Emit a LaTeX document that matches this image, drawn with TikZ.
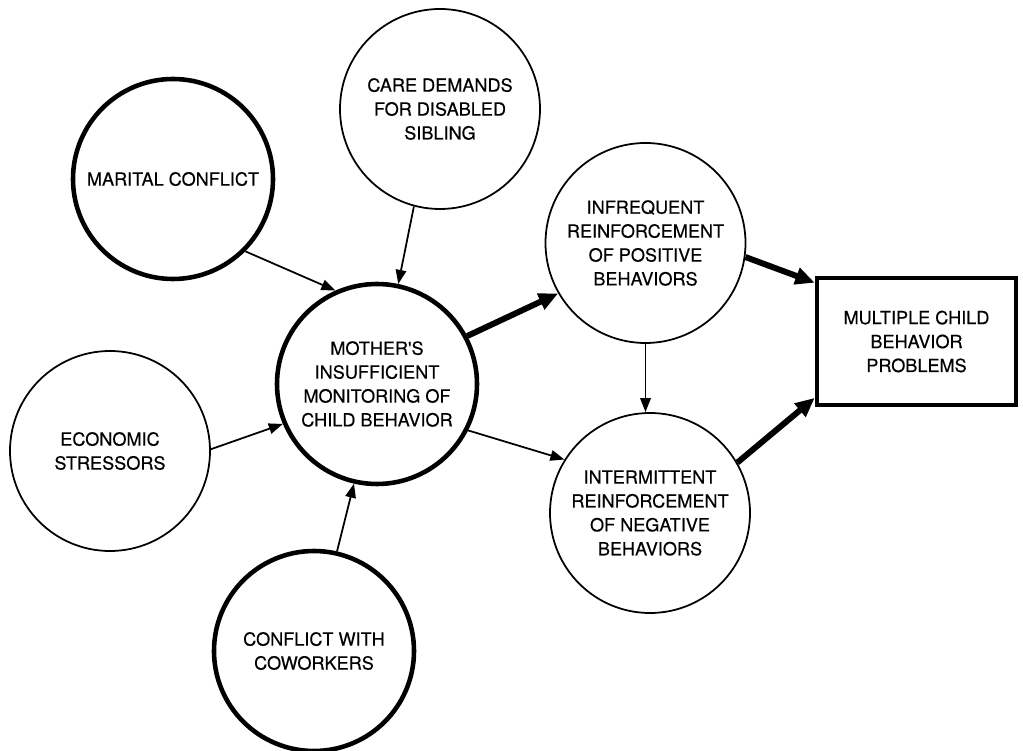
\documentclass[tikz,border=0pt]{standalone}
\usepackage{fontspec}
\setmainfont{TeX Gyre Heros}
\newfontfamily\diagfont{TeX Gyre Heros}[FakeBold=0.4]
\usetikzlibrary{arrows.meta}

\begin{document}
\begin{tikzpicture}
	\tikzset{
		bubble/.style={circle, draw, line width=1pt, minimum size=4cm, inner sep=0pt,
			align=center, font=\diagfont\fontsize{10.3}{13.6}\selectfont},
		heavy/.style={line width=2.6pt},
		outcome/.style={rectangle, draw, line width=2.6pt, minimum width=3.98cm,
			minimum height=2.54cm, align=center, font=\diagfont\fontsize{10.3}{13.6}\selectfont},
		link/.style={-{Triangle[length=8pt, width=6pt]}, line width=1pt},
		heavylink/.style={-{Triangle[length=11pt, width=9.5pt]}, line width=3.4pt}
	}
	\useasboundingbox (0, 0) rectangle (20.46, -15.02);
	
	% stressors
	\node[bubble, heavy] (marital) at (3.46, -3.58) {MARITAL CONFLICT};
	\node[bubble] (care) at (8.80, -2.18) {CARE DEMANDS\\FOR DISABLED\\SIBLING};
	\node[bubble] (econ) at (2.20, -9.02) {ECONOMIC\\STRESSORS};
	\node[bubble, heavy] (cowork) at (6.28, -13.02) {CONFLICT WITH\\COWORKERS};
	
	% parenting
	\node[bubble, heavy] (mother) at (7.54, -7.68) {MOTHER'S\\INSUFFICIENT\\MONITORING OF\\CHILD BEHAVIOR};
	\node[bubble] (infreq) at (12.91, -4.86) {INFREQUENT\\REINFORCEMENT\\OF POSITIVE\\BEHAVIORS};
	\node[bubble] (intermit) at (13.00, -10.26) {INTERMITTENT\\REINFORCEMENT\\OF NEGATIVE\\BEHAVIORS};
	
	% outcome
	\node[outcome] (problems) at (18.33, -6.83) {MULTIPLE CHILD\\BEHAVIOR\\PROBLEMS};
	
	% arrows
	\foreach \a/\b in {marital.-45/mother.114, care.-105/mother.78, econ.1/mother.-157,
		cowork.77/mother.-103, mother.-27/intermit.148}{
		\draw[link] (\a) -- (\b);
	}
	\draw[link] (infreq.south) -- (infreq.south |- intermit.north);
	\foreach \a/\b in {mother.28/infreq.-150, infreq.-8/problems.150, intermit.30/problems.-151}{
		\draw[heavylink] (\a) -- (\b);
	}
\end{tikzpicture}
\end{document}
